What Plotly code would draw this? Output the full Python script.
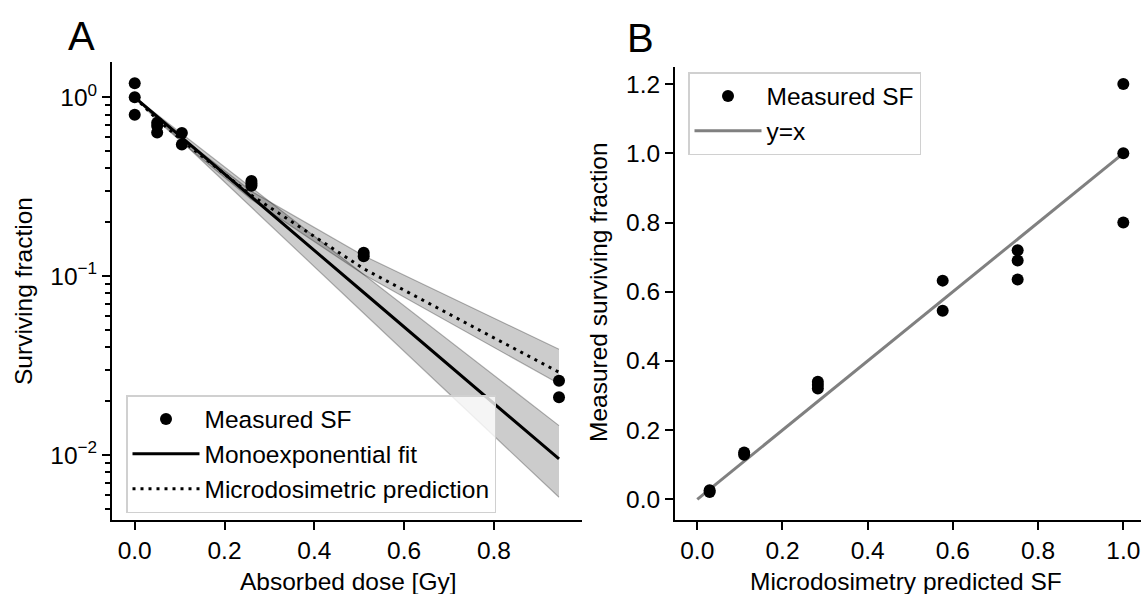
import plotly.graph_objects as go

# ---------------- data ----------------
dose_levels = [0.0, 0.05, 0.105, 0.26, 0.51, 0.945]
pred_sf = [1.0, 0.752, 0.576, 0.283, 0.11, 0.029]          # microdosimetric prediction
pred_upper = [1.0, 0.765, 0.595, 0.298, 0.13, 0.039]
pred_lower = [1.0, 0.74, 0.56, 0.268, 0.102, 0.025]
fit_sf = [1.0, 0.781, 0.596, 0.277, 0.081, 0.0095]         # monoexponential fit
fit_upper = [1.0, 0.80, 0.626, 0.313, 0.102, 0.0146]
fit_lower = [1.0, 0.761, 0.565, 0.242, 0.062, 0.0058]

meas_dose_idx = [0, 0, 0, 1, 1, 1, 2, 2, 3, 3, 3, 4, 4, 5, 5]
meas_sf = [1.2, 1.0, 0.8, 0.72, 0.69, 0.635, 0.632, 0.545, 0.34, 0.33, 0.32, 0.135, 0.129, 0.026, 0.021]

meas_dose = [dose_levels[i] for i in meas_dose_idx]
meas_pred = [pred_sf[i] for i in meas_dose_idx]

identity = [0.0, 1.0]

FONT = "Liberation Sans, Arial, sans-serif"
FS = 24.5
W, H = 1141, 594

fig = go.Figure()

# ---- Panel A ----
band_fill = "rgba(0,0,0,0.2)"
band_edge = "rgba(0,0,0,0.28)"
for up, lo in [(fit_upper, fit_lower), (pred_upper, pred_lower)]:
    fig.add_trace(go.Scatter(x=dose_levels, y=up, mode="lines", line=dict(color=band_edge, width=1.2),
                             showlegend=False, hoverinfo="skip", xaxis="x", yaxis="y"))
    fig.add_trace(go.Scatter(x=dose_levels, y=lo, mode="lines", line=dict(color=band_edge, width=1.2),
                             fill="tonexty", fillcolor=band_fill,
                             showlegend=False, hoverinfo="skip", xaxis="x", yaxis="y"))

fig.add_trace(go.Scatter(x=dose_levels, y=fit_sf, mode="lines", name="Monoexponential fit",
                         line=dict(color="black", width=3), legend="legend", legendgroup="a2",
                         legendrank=2, xaxis="x", yaxis="y"))
fig.add_trace(go.Scatter(x=dose_levels, y=pred_sf, mode="lines", name="Microdosimetric prediction",
                         line=dict(color="black", width=3, dash="3px,5px"), legend="legend",
                         legendgroup="a3", legendrank=3, xaxis="x", yaxis="y"))
fig.add_trace(go.Scatter(x=meas_dose, y=meas_sf, mode="markers", name="Measured SF",
                         marker=dict(color="black", size=12), legend="legend", legendgroup="a1",
                         legendrank=1, xaxis="x", yaxis="y"))

# ---- Panel B ----
fig.add_trace(go.Scatter(x=identity, y=identity, mode="lines", name="y=x",
                         line=dict(color="#808080", width=3), legend="legend2", legendgroup="b2",
                         legendrank=2, xaxis="x2", yaxis="y2"))
fig.add_trace(go.Scatter(x=meas_pred, y=meas_sf, mode="markers", name="Measured SF",
                         marker=dict(color="black", size=12), legend="legend2", legendgroup="b1",
                         legendrank=1, xaxis="x2", yaxis="y2"))

# minor log ticks
minor_vals = []
for e in [-3, -2, -1]:
    for m in range(2, 10):
        minor_vals.append(m * 10 ** e)

axis_common = dict(showline=True, linecolor="black", linewidth=2, ticks="outside", ticklen=8,
                   tickwidth=2, tickcolor="black", showgrid=False, zeroline=False,
                   tickfont=dict(family=FONT, size=FS, color="black"))

fig.update_layout(
    width=W, height=H,
    margin=dict(l=0, r=0, t=0, b=0),
    paper_bgcolor="white", plot_bgcolor="white",
    font=dict(family=FONT, size=FS, color="black"),
    xaxis=dict(domain=[112 / W, 582 / W], range=[-0.0506, 0.9962], anchor="y",
               tickvals=[0, 0.2, 0.4, 0.6, 0.8], ticktext=["0.0", "0.2", "0.4", "0.6", "0.8"],
               **axis_common),
    yaxis=dict(domain=[(H - 520) / H, (H - 62) / H], type="log", range=[-2.3635, 0.1974], anchor="x",
               tickvals=[0.01, 0.1, 1], ticktext=["10<sup>\u22122</sup>", "10<sup>\u22121</sup>", "10<sup>0</sup>"],
               minor=dict(tickvals=minor_vals, ticks="outside", ticklen=5, tickwidth=1.5, tickcolor="black"),
               **axis_common),
    xaxis2=dict(domain=[675 / W, 1.0], range=[-0.0523, 1.0415], anchor="y2",
                tickvals=[0, 0.2, 0.4, 0.6, 0.8, 1.0], ticktext=["0.0", "0.2", "0.4", "0.6", "0.8", "1.0"],
                **axis_common),
    yaxis2=dict(domain=[(H - 520) / H, (H - 67) / H], range=[-0.0598, 1.2494], anchor="x2",
                tickvals=[0, 0.2, 0.4, 0.6, 0.8, 1.0, 1.2],
                ticktext=["0.0", "0.2", "0.4", "0.6", "0.8", "1.0", "1.2"],
                **axis_common),
    legend=dict(x=126 / W, y=(H - 395) / H, xanchor="left", yanchor="top",
                bgcolor="rgba(255,255,255,0.8)", bordercolor="#d0d0d0", borderwidth=1.5,
                font=dict(family=FONT, size=FS, color="black"), traceorder="grouped",
                tracegroupgap=0, itemwidth=67),
    legend2=dict(x=688 / W, y=(H - 72) / H, xanchor="left", yanchor="top",
                 bgcolor="rgba(255,255,255,0.8)", bordercolor="#d0d0d0", borderwidth=1.5,
                 font=dict(family=FONT, size=FS, color="black"), traceorder="grouped",
                 tracegroupgap=0, itemwidth=67),
    annotations=[
        dict(text="A", x=81 / W, y=(H - 36) / H, xref="paper", yref="paper", showarrow=False,
             font=dict(family=FONT, size=40, color="black"), xanchor="center", yanchor="middle"),
        dict(text="B", x=641 / W, y=(H - 38) / H, xref="paper", yref="paper", showarrow=False,
             font=dict(family=FONT, size=40, color="black"), xanchor="center", yanchor="middle"),
        dict(text="Surviving fraction", x=23 / W, y=(H - 291) / H, xref="paper", yref="paper",
             showarrow=False, textangle=-90, font=dict(family=FONT, size=FS, color="black"),
             xanchor="center", yanchor="middle"),
        dict(text="Absorbed dose [Gy]", x=348 / W, y=(H - 581) / H, xref="paper", yref="paper",
             showarrow=False, font=dict(family=FONT, size=FS, color="black"),
             xanchor="center", yanchor="middle"),
        dict(text="Measured surviving fraction", x=598 / W, y=(H - 292) / H, xref="paper", yref="paper",
             showarrow=False, textangle=-90, font=dict(family=FONT, size=FS, color="black"),
             xanchor="center", yanchor="middle"),
        dict(text="Microdosimetry predicted SF", x=906 / W, y=(H - 581) / H, xref="paper", yref="paper",
             showarrow=False, font=dict(family=FONT, size=FS, color="black"),
             xanchor="center", yanchor="middle"),
    ],
)

fig.write_html("out.html")
